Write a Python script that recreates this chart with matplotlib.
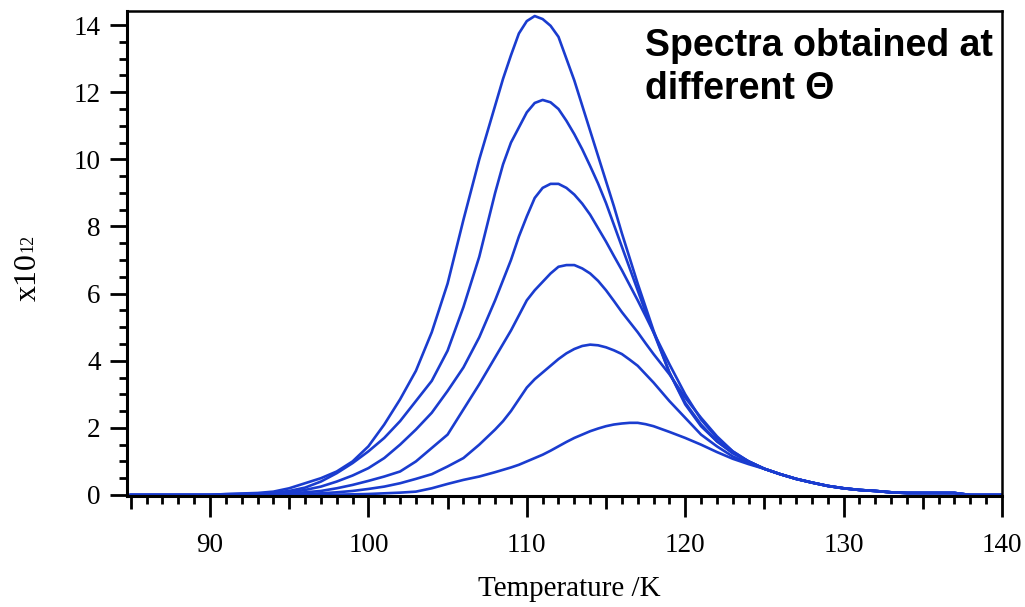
import matplotlib
matplotlib.use("Agg")
import matplotlib.pyplot as plt
from matplotlib.ticker import MultipleLocator, FuncFormatter

# ---- data ----
temps = [85, 90, 91, 93, 94, 95, 96, 97, 98, 99, 100, 101, 102, 103, 104, 105, 106, 107,
         108, 108.5, 109, 109.5, 110, 110.5, 111, 111.5, 112, 112.5, 113, 113.5, 114, 114.5,
         115, 115.5, 116, 116.5, 117, 117.5, 118, 119, 120, 121, 122, 123, 124,
         125, 126, 127, 128, 129, 130, 131, 132, 133, 134, 137, 138, 140]

tail = [0.78, 0.62, 0.48, 0.37, 0.27, 0.20, 0.15, 0.12, 0.08, 0.06, 0.06, 0.0, 0.0]

curve1 = [0, 0, 0.03, 0.06, 0.10, 0.20, 0.35, 0.50, 0.70, 1.00, 1.45, 2.10, 2.85, 3.70, 4.85,
          6.30, 8.20, 10.0,
          11.6, 12.4, 13.1, 13.75, 14.12, 14.27, 14.18, 13.98, 13.65, 13.0, 12.35, 11.6, 10.85, 10.1,
          9.35, 8.6, 7.8, 7.05, 6.3, 5.6, 4.9,
          3.65, 2.70, 2.05, 1.60, 1.25, 1.00] + tail
curve2 = [0, 0, 0.02, 0.04, 0.07, 0.12, 0.22, 0.40, 0.65, 0.95, 1.30, 1.70, 2.20, 2.80, 3.40,
          4.30, 5.60, 7.10,
          9.0, 9.85, 10.5, 10.95, 11.4, 11.68, 11.77, 11.7, 11.5, 11.15, 10.75, 10.3, 9.8, 9.28,
          8.7, 8.05, 7.4, 6.75, 6.1, 5.45, 4.85,
          3.65, 2.75, 2.10, 1.60, 1.25, 1.00] + tail
curve3 = [0, 0, 0.01, 0.03, 0.05, 0.08, 0.15, 0.25, 0.40, 0.58, 0.80, 1.10, 1.50, 1.95, 2.45,
          3.10, 3.80, 4.70,
          5.8, 6.4, 7.0, 7.7, 8.3, 8.85, 9.15, 9.27, 9.27, 9.15, 8.95, 8.68, 8.35, 7.95,
          7.55, 7.12, 6.7, 6.25, 5.8, 5.33, 4.85,
          3.90, 3.00, 2.25, 1.70, 1.30, 1.00] + tail
curve4 = [0, 0, 0, 0.02, 0.03, 0.05, 0.08, 0.12, 0.20, 0.30, 0.42, 0.55, 0.70, 1.00, 1.40,
          1.80, 2.55, 3.30,
          4.1, 4.5, 4.9, 5.35, 5.8, 6.1, 6.35, 6.6, 6.8, 6.85, 6.85, 6.75, 6.6, 6.38,
          6.1, 5.78, 5.45, 5.15, 4.85, 4.52, 4.2,
          3.60, 2.90, 2.30, 1.75, 1.30, 1.00] + tail
curve5 = [0, 0, 0, 0, 0.01, 0.02, 0.03, 0.05, 0.08, 0.12, 0.18, 0.25, 0.35, 0.48, 0.62,
          0.85, 1.10, 1.50,
          1.95, 2.2, 2.5, 2.85, 3.2, 3.45, 3.65, 3.85, 4.05, 4.22, 4.35, 4.44, 4.48, 4.46,
          4.4, 4.31, 4.2, 4.03, 3.85, 3.6, 3.35,
          2.80, 2.30, 1.80, 1.45, 1.15, 0.95] + tail
curve6 = [0, 0, 0, 0, 0, 0, 0, 0, 0.01, 0.02, 0.03, 0.05, 0.07, 0.10, 0.20,
          0.33, 0.45, 0.55,
          0.68, 0.75, 0.82, 0.9, 1.0, 1.1, 1.2, 1.32, 1.45, 1.58, 1.7, 1.8, 1.9, 1.98,
          2.05, 2.1, 2.13, 2.15, 2.15, 2.11, 2.05,
          1.88, 1.70, 1.50, 1.28, 1.08, 0.92] + tail

curves = [curve1, curve2, curve3, curve4, curve5, curve6]
y_major = [0, 2, 4, 6, 8, 10, 12, 14]

# ---- figure ----
fig = plt.figure(figsize=(10.25, 6.07), dpi=100)
ax = fig.add_axes([127/1025, 1 - 496/607, (1002-127)/1025, (496-11)/607])
line_color = "#1a3ccf"
for c in curves:
    ax.plot(temps, c, color=line_color, lw=1.9, solid_joinstyle="round")

ax.set_xlim(84.76, 140.0)
ax.set_ylim(-0.03, 14.42)

serif = "Liberation Serif"
for s in ["left", "bottom"]:
    ax.spines[s].set_linewidth(2.2)
for s in ["top", "right"]:
    ax.spines[s].set_linewidth(1.8)

# x ticks: every 5 (labelled only at tens), minor every 1
ax.xaxis.set_major_locator(MultipleLocator(5))
ax.xaxis.set_minor_locator(MultipleLocator(1))
ax.xaxis.set_major_formatter(
    FuncFormatter(lambda v, p: "%d" % round(v) if int(round(v)) % 10 == 0 else ""))
ax.tick_params(axis="x", which="major", direction="out", length=15, width=2.0, pad=12,
               labelsize=19.5, labelfontfamily=serif, colors="black")
ax.tick_params(axis="x", which="minor", direction="out", length=5.8, width=2.0)

ax.set_yticks(y_major)
ax.yaxis.set_minor_locator(MultipleLocator(0.5))
ax.tick_params(axis="y", which="major", direction="out", length=12, width=2.0, pad=7,
               labelsize=19.5, labelfontfamily=serif)
ax.tick_params(axis="y", which="minor", direction="out", length=5.8, width=2.0)
ax.tick_params(top=False, right=False, which="both")

# labels
fig.text(569/1025, 1 - 589/607, "Temperature /K", ha="center", va="center",
         fontsize=21, family=serif)
t1 = fig.text(28/1025, 1 - 277/607, "x10", rotation=90, ha="center", va="center",
              fontsize=23, family=serif)
fig.text(645/1025, 1 - 28/607, "Spectra obtained at\ndifferent \u0398", ha="left", va="top",
         fontsize=27, fontweight="bold", family="Liberation Sans", linespacing=1.25)

fig.canvas.draw()
# shorter ticks at the fives that are not tens
for tk, loc in zip(ax.xaxis.get_major_ticks(), ax.xaxis.get_majorticklocs()):
    if int(round(loc)) % 10 != 0:
        tk.tick1line.set_markersize(9.4)

bb = t1.get_window_extent()
fig.text((bb.x0 + bb.width * 0.5) / 1025, (bb.y1 + 1) / 607, "12", rotation=90,
         ha="center", va="bottom", fontsize=13, family=serif)

fig.savefig("out.png", dpi=100)
